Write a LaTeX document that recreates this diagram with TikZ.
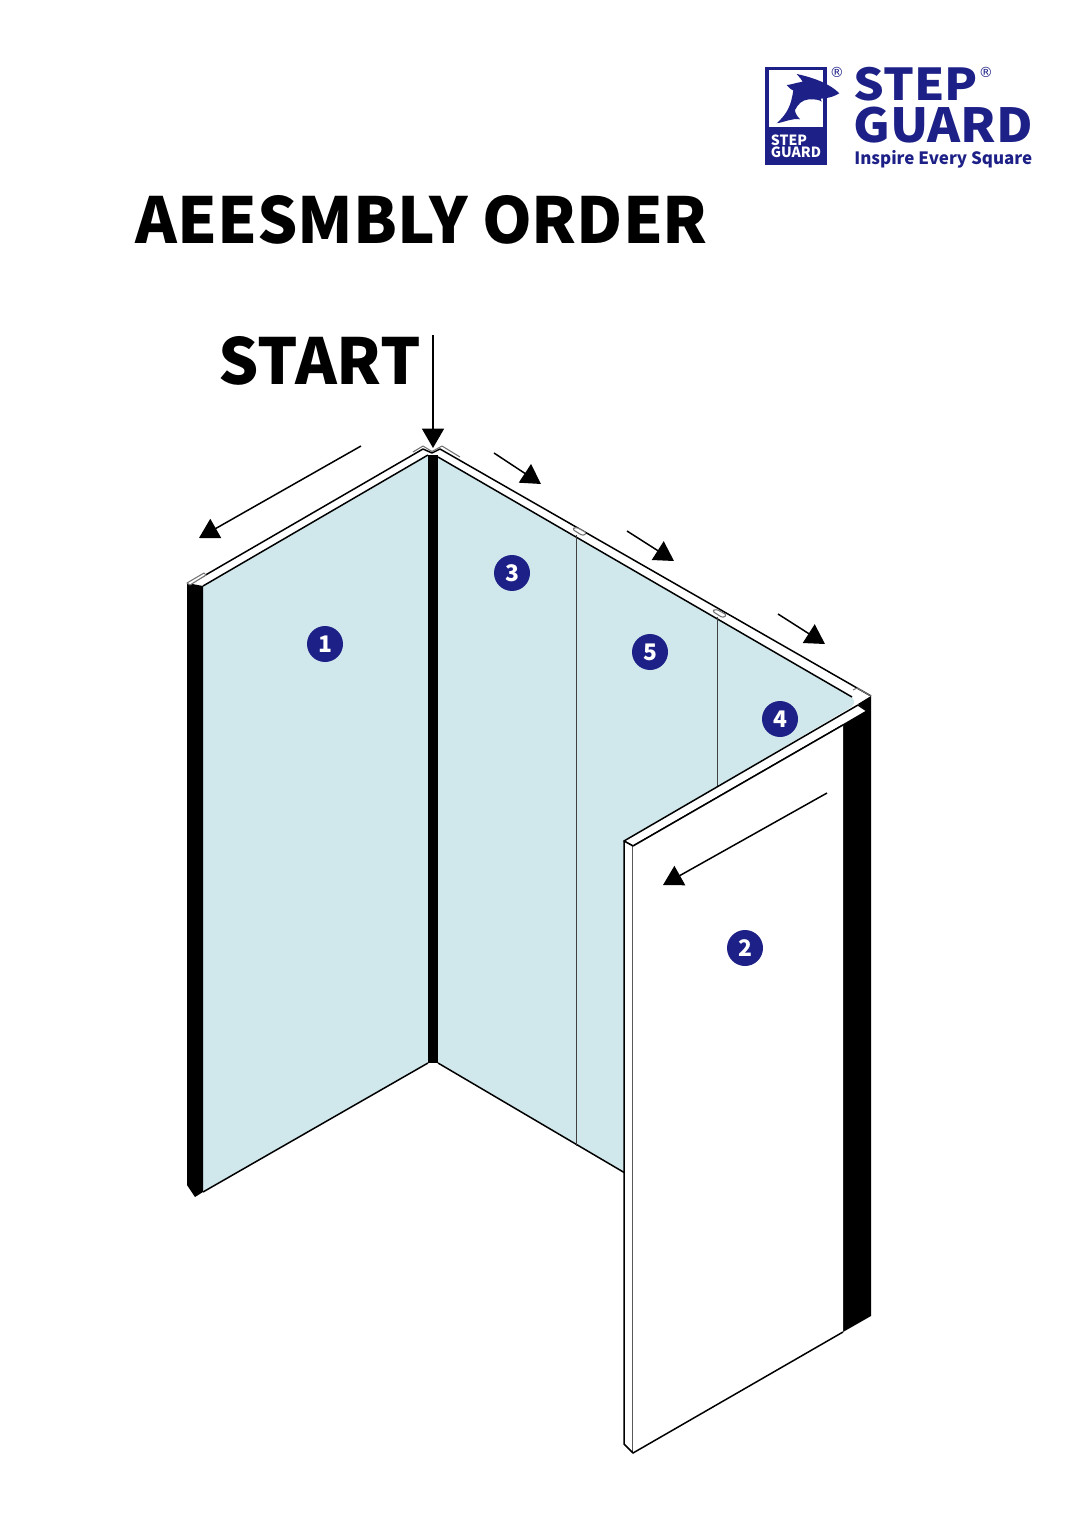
\documentclass[tikz,border=0pt]{standalone}
\usepackage{fontspec}
\setmainfont{Noto Sans CJK SC}
\newfontfamily\stepfont[FakeStretch=1.1]{Noto Sans CJK SC}
\newfontfamily\guardfont[FakeStretch=1.07]{Noto Sans CJK SC}
\newfontfamily\markfont{DejaVu Sans}
\usetikzlibrary{arrows.meta}
\definecolor{panelteal}{HTML}{D0E8EC}
\definecolor{stepnavy}{HTML}{1D2087}
\tikzset{
  edgeline/.style={black,line width=0.85pt,line join=round},
  thinline/.style={black!75,line width=0.55pt},
  clipline/.style={black!55,line width=0.6pt,fill=white,line join=round},
  orderarrow/.style={black,line width=0.85pt,-{Triangle[length=11pt,width=12.5pt]}},
  badge/.style={circle,fill=stepnavy,text=white,minimum size=0.72cm,inner sep=0pt,font=\fontsize{13}{13}\selectfont\bfseries},
  heading/.style={anchor=base west,inner sep=0pt,font=\fontsize{36.1}{36.1}\selectfont\bfseries},
  logotext/.style={anchor=base west,inner sep=0pt,text=stepnavy}
}
\begin{document}
\begin{tikzpicture}[x=0.02cm,y=-0.02cm]
\useasboundingbox (0,0) rectangle (1080,1527);
% panels
\fill[panelteal] (203,586)--(428,455)--(428,1063)--(203,1192)--cycle;
\fill[panelteal] (438,457)--(852,697) .. controls (856,702) and (854,706) .. (848,709)
  --(625,841)--(625,1173)--(438,1063)--cycle;
% black edges
\fill[black] (187,583)--(203,586)--(203,1192)--(195,1197)--(187,1185)--cycle;
\fill[black] (428,455)--(438,455)--(438,1063)--(428,1063)--cycle;
\fill[black] (843,725)--(867,711)--(858,704)--(871,696)--(871,1316)--(843,1332)--cycle;
% top strips
\draw[edgeline] (190,584)--(423,449)--(432,453)--(440,449)--(871,696);
\draw[edgeline] (203,586)--(428,455) (438,457)--(852,697);
\draw[edgeline] (203,1192)--(428,1063) (438,1063)--(625,1173);
% clips
\draw[clipline] (187,583)--(204,573)--(206,575)--(190,585)--cycle;
\draw[clipline,fill=none] (413,452)--(423,446)--(432,451.5)--(442,446)--(460,457);
\draw[clipline,rounded corners=1.5pt] (572,529)--(576,527)--(587,533)--(583,536)--cycle;
\draw[clipline,rounded corners=1.5pt] (712,611)--(716,609)--(727,615)--(723,618)--cycle;
\draw[clipline,fill=none] (853,690)--(857,688)--(871,696);
% dividers
\draw[thinline] (576,535)--(576,1146);
\draw[thinline] (717,617)--(717,787);
% panel 2
\draw[edgeline,fill=white] (624,841)--(858,705)--(867,711)--(843,725)--(633,846)--cycle;
\draw[edgeline,fill=white] (624,841)--(633,846)--(633,1453)--(624,1444)--cycle;
\fill[white] (633,846)--(843,725)--(843,1332)--(633,1453)--cycle;
\draw[edgeline] (633,846)--(843,725) (633,1453)--(843,1332);
% arrows
\coordinate (startfrom) at (433,335);
\coordinate (startto) at (433,448);
\coordinate (afrom) at (361,446);
\coordinate (ato) at (199,538);
\coordinate (bfrom) at (494,453);
\coordinate (bto) at (541,484);
\coordinate (cfrom) at (627,531);
\coordinate (cto) at (674,561);
\coordinate (dfrom) at (778,614);
\coordinate (dto) at (825,644);
\coordinate (efrom) at (827,793);
\coordinate (eto) at (663,885);
\foreach \p in {start,a,b,c,d,e}
  \draw[orderarrow] (\p from)--(\p to);
% order numbers
\foreach \n/\x/\y in {1/325/644,3/512/573,5/650/652,4/780/719,2/745/948}
  \node[badge] (no\n) at (\x,\y) {\n};
% headings
\node[heading] (title) at (135,244) {AEESMBLY ORDER};
\node[heading] (start) at (218,384) {START};
% logo
\fill[stepnavy] (765,67) rectangle (827,165);
\fill[white] (768.5,70.5) rectangle (823,127);
\fill[stepnavy] (839.3,93.3) .. controls (830,84) and (815,78) .. (796.7,74)
  .. controls (800,78) and (802,80) .. (802.7,81.7) .. controls (795,83) and (790,85) .. (786.7,85)
  .. controls (789,88) and (792,90) .. (793.3,90.5) .. controls (791,105) and (788,113) .. (776.7,123.3)
  .. controls (785,122) and (792,118) .. (800,119.3) .. controls (796,115) and (795,112) .. (795,110)
  .. controls (798,104) and (802,100) .. (809,99.3) .. controls (815,99) and (820,100) .. (821.7,101.7)
  .. controls (821.5,100) and (821,99.5) .. (820.7,98.7) .. controls (830,98) and (835,96) .. (839.3,93.3) -- cycle;
\node[anchor=base west,inner sep=0pt,text=white,font=\fontsize{8}{8}\selectfont\bfseries] (logoa) at (770.5,146) {STEP};
\node[anchor=base west,inner sep=0pt,text=white,font=\fontsize{8}{8}\selectfont\bfseries] (logob) at (770.5,157.5) {GUARD};
\node[logotext,font=\fontsize{25}{25}\stepfont\bfseries] (logoc) at (853,101) {STEP};
\node[logotext,font=\fontsize{26.7}{26.7}\guardfont\bfseries] (logod) at (853,143) {GUARD};
\node[logotext,font=\fontsize{9.65}{9.65}\selectfont\bfseries] (logoe) at (854,165) {Inspire Every Square};
\node[text=stepnavy,inner sep=0pt,font=\fontsize{8}{8}\markfont] (marka) at (837,72) {®};
\node[text=stepnavy,inner sep=0pt,font=\fontsize{8}{8}\markfont] (markb) at (986,72) {®};
\end{tikzpicture}
\end{document}
